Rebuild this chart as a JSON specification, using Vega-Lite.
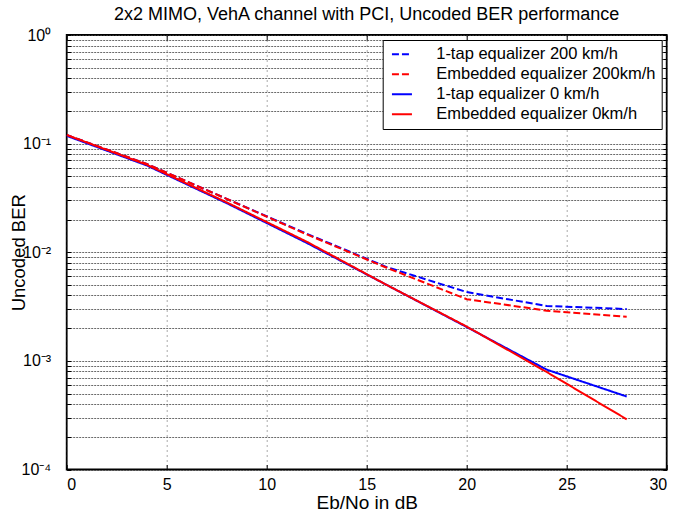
{
  "$schema": "https://vega.github.io/schema/vega-lite/v6.json",
  "autosize": "none",
  "width": 600,
  "height": 434.5,
  "padding": {"left": 66.7, "top": 35, "right": 9.3, "bottom": 50.5},
  "background": "white",
  "title": {"text": "2x2 MIMO, VehA channel with PCI, Uncoded BER performance", "font": "Liberation Sans", "fontSize": 18, "fontWeight": "normal", "color": "black", "offset": 3},
  "config": {
    "view": {"stroke": "black", "strokeWidth": 1.8},
    "axis": {"labelFont": "Liberation Sans", "titleFont": "Liberation Sans", "labelColor": "black", "titleColor": "black", "titleFontWeight": "normal", "domainColor": "black", "tickColor": "black"},
    "legend": {"title": null, "orient": "top-right", "offset": 5, "padding": 6, "strokeColor": "black", "fillColor": "white", "labelFont": "Liberation Sans", "labelFontSize": 16.5, "labelColor": "black", "labelLimit": 400, "symbolType": "M-2.5,0H7.5", "symbolSize": 16, "symbolStrokeWidth": 2, "labelOffset": 31, "rowPadding": 3}
  },
  "data": {"values": [
    {"x": 0, "ber": 0.12, "series": "1-tap equalizer 200 km/h"},
    {"x": 4, "ber": 0.065, "series": "1-tap equalizer 200 km/h"},
    {"x": 8, "ber": 0.031, "series": "1-tap equalizer 200 km/h"},
    {"x": 12, "ber": 0.0148, "series": "1-tap equalizer 200 km/h"},
    {"x": 16, "ber": 0.0073, "series": "1-tap equalizer 200 km/h"},
    {"x": 20, "ber": 0.0043, "series": "1-tap equalizer 200 km/h"},
    {"x": 24, "ber": 0.0032, "series": "1-tap equalizer 200 km/h"},
    {"x": 28, "ber": 0.003, "series": "1-tap equalizer 200 km/h"},
    {"x": 0, "ber": 0.12, "series": "Embedded equalizer 200km/h"},
    {"x": 4, "ber": 0.065, "series": "Embedded equalizer 200km/h"},
    {"x": 8, "ber": 0.031, "series": "Embedded equalizer 200km/h"},
    {"x": 12, "ber": 0.0146, "series": "Embedded equalizer 200km/h"},
    {"x": 16, "ber": 0.0072, "series": "Embedded equalizer 200km/h"},
    {"x": 20, "ber": 0.0037, "series": "Embedded equalizer 200km/h"},
    {"x": 24, "ber": 0.0029, "series": "Embedded equalizer 200km/h"},
    {"x": 28, "ber": 0.00255, "series": "Embedded equalizer 200km/h"},
    {"x": 0, "ber": 0.118, "series": "1-tap equalizer 0 km/h"},
    {"x": 4, "ber": 0.063, "series": "1-tap equalizer 0 km/h"},
    {"x": 8, "ber": 0.0283, "series": "1-tap equalizer 0 km/h"},
    {"x": 12, "ber": 0.0122, "series": "1-tap equalizer 0 km/h"},
    {"x": 16, "ber": 0.005, "series": "1-tap equalizer 0 km/h"},
    {"x": 20, "ber": 0.00205, "series": "1-tap equalizer 0 km/h"},
    {"x": 24, "ber": 0.00083, "series": "1-tap equalizer 0 km/h"},
    {"x": 28, "ber": 0.00047, "series": "1-tap equalizer 0 km/h"},
    {"x": 0, "ber": 0.12, "series": "Embedded equalizer 0km/h"},
    {"x": 4, "ber": 0.064, "series": "Embedded equalizer 0km/h"},
    {"x": 8, "ber": 0.0288, "series": "Embedded equalizer 0km/h"},
    {"x": 12, "ber": 0.0125, "series": "Embedded equalizer 0km/h"},
    {"x": 16, "ber": 0.005, "series": "Embedded equalizer 0km/h"},
    {"x": 20, "ber": 0.00207, "series": "Embedded equalizer 0km/h"},
    {"x": 24, "ber": 0.00079, "series": "Embedded equalizer 0km/h"},
    {"x": 28, "ber": 0.00029, "series": "Embedded equalizer 0km/h"}
  ]},
  "resolve": {"axis": {"x": "independent", "y": "independent"}},
  "layer": [
    {
      "mark": {"type": "line", "strokeWidth": 2, "clip": true},
      "encoding": {
        "x": {"field": "x", "type": "quantitative", "scale": {"domain": [0, 30], "nice": false},
          "axis": {"title": "Eb/No in dB", "titleFontSize": 19, "titlePadding": 1, "values": [0, 5, 10, 15, 20, 25, 30], "labelFontSize": 16, "tickSize": -5, "labelPadding": 12, "domain": false, "grid": true, "gridColor": "#555", "gridDash": [1, 4], "gridWidth": 1}},
        "y": {"field": "ber", "type": "quantitative", "scale": {"type": "log", "domain": [0.0001, 1], "nice": false},
          "axis": {"title": "Uncoded BER", "titleFontSize": 18.5, "titlePadding": -7,
            "values": [0.0001, 0.0002, 0.0003, 0.0004, 0.0005, 0.0006, 0.0007, 0.0008, 0.0009, 0.001, 0.002, 0.003, 0.004, 0.005, 0.006, 0.007, 0.008, 0.009, 0.01, 0.02, 0.03, 0.04, 0.05, 0.06, 0.07, 0.08, 0.09, 0.1, 0.2, 0.3, 0.4, 0.5, 0.6, 0.7, 0.8, 0.9, 1],
            "labelExpr": "datum.value == 1 ? '10⁰' : datum.value == 0.1 ? '10⁻¹' : datum.value == 0.01 ? '10⁻²' : datum.value == 0.001 ? '10⁻³' : datum.value == 0.0001 ? '10⁻⁴' : ''",
            "labelFontSize": 16, "tickSize": -4, "labelPadding": 20, "domain": false, "grid": true, "gridColor": "#444", "gridDash": [2, 1], "gridWidth": 0.8, "labelOverlap": false}},
        "color": {"field": "series", "type": "nominal",
          "scale": {"domain": ["1-tap equalizer 200 km/h", "Embedded equalizer 200km/h", "1-tap equalizer 0 km/h", "Embedded equalizer 0km/h"], "range": ["#0000ff", "#ff0000", "#0000ff", "#ff0000"]},
          "legend": {}},
        "strokeDash": {"field": "series", "type": "nominal",
          "scale": {"domain": ["1-tap equalizer 200 km/h", "Embedded equalizer 200km/h", "1-tap equalizer 0 km/h", "Embedded equalizer 0km/h"], "range": [[7, 3], [7, 3], [1, 0], [1, 0]]},
          "legend": {}}
      }
    },
    {
      "mark": {"type": "point", "opacity": 0},
      "encoding": {
        "x": {"field": "x", "type": "quantitative", "scale": {"domain": [0, 30], "nice": false},
          "axis": {"orient": "top", "title": null, "labels": false, "values": [0, 5, 10, 15, 20, 25, 30], "tickSize": -5, "domain": false, "grid": false}},
        "y": {"field": "ber", "type": "quantitative", "scale": {"type": "log", "domain": [0.0001, 1], "nice": false},
          "axis": {"orient": "right", "title": null, "labels": false,
            "values": [0.0001, 0.0002, 0.0003, 0.0004, 0.0005, 0.0006, 0.0007, 0.0008, 0.0009, 0.001, 0.002, 0.003, 0.004, 0.005, 0.006, 0.007, 0.008, 0.009, 0.01, 0.02, 0.03, 0.04, 0.05, 0.06, 0.07, 0.08, 0.09, 0.1, 0.2, 0.3, 0.4, 0.5, 0.6, 0.7, 0.8, 0.9, 1],
            "tickSize": -4, "domain": false, "grid": false}}
      }
    }
  ]
}
